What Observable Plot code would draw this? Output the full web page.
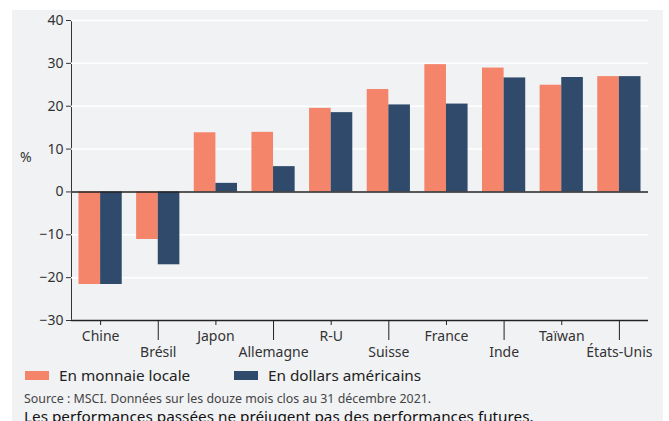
<!DOCTYPE html>
<html><head><meta charset="utf-8">
<script src="https://cdn.jsdelivr.net/npm/d3@7"></script>
<script src="https://cdn.jsdelivr.net/npm/@observablehq/plot@0.6"></script>
<style>
body{margin:0;background:#fff;font-family:"Noto Sans",sans-serif;overflow:hidden;}
#wrap{position:absolute;left:12px;top:10px;width:651px;height:420px;background:#f1f2f4;}
#chart{position:absolute;left:0;top:0;}
#pct{position:absolute;left:8px;top:137px;font-size:14px;color:#333;}
.leg{position:absolute;top:355px;font-size:15.3px;color:#222;display:flex;align-items:center;}
.sw{display:inline-block;width:24px;height:9px;margin-right:10px;}
#src{position:absolute;left:12px;top:382px;font-size:12.4px;line-height:14px;color:#444;}
#disc{position:absolute;left:12px;top:398px;font-size:15.3px;line-height:17px;color:#111;}
</style></head>
<body>
<div id="wrap">
<div id="chart"></div>
<div id="pct">%</div>
<div class="leg" style="left:13px"><span class="sw" style="background:#f4846a"></span>En monnaie locale</div>
<div class="leg" style="left:222px"><span class="sw" style="background:#2f4a6b"></span>En dollars américains</div>
<div id="src">Source : MSCI. Données sur les douze mois clos au 31 décembre 2021.</div>
<div id="disc">Les performances passées ne préjugent pas des performances futures.</div>
</div>
<script>
const categories = ["Chine","Brésil","Japon","Allemagne","R-U","Suisse","France","Inde","Taïwan","États-Unis"];
const series = ["En monnaie locale","En dollars américains"];
const localValues = [-21.6,-11.1,13.8,13.9,19.5,23.9,29.7,28.9,24.9,26.9];
const usdValues = [-21.6,-17.0,2.0,5.9,18.5,20.3,20.5,26.6,26.7,26.9];
const yTicks = [-30,-20,-10,0,10,20,30,40];
const colors = ["#f4846a","#2f4a6b"];

const localData = categories.map((c,i)=>({cat:c, v:localValues[i]}));
const usdData = categories.map((c,i)=>({cat:c, v:usdValues[i]}));
const evenCats = categories.filter((c,i)=>i%2===0);
const oddCats = categories.filter((c,i)=>i%2===1);

function make(half){
  return Plot.plot({
    width:651, height:362,
    marginTop:10, marginBottom:52, marginLeft:59, marginRight:15,
    style:{background:"transparent", fontFamily:"Noto Sans, sans-serif", fontSize:"14px", color:"#333"},
    x:{domain:categories, paddingInner:0.25, paddingOuter:0.13, round:false, label:null},
    y:{domain:[-30,40], ticks:yTicks, label:null, line:true, tickSize:5, tickPadding:3},
    marks:[
      Plot.gridY(yTicks, {stroke:"#fff", strokeOpacity:1, strokeWidth:1.5}),
      Plot.barY(localData, {x:"cat", y:"v", fill:colors[0], insetRight:half}),
      Plot.barY(usdData, {x:"cat", y:"v", fill:colors[1], insetLeft:half}),
      Plot.ruleY([0], {stroke:"#222", strokeWidth:1.5}),
      Plot.axisX({ticks:evenCats, tickSize:5, tickPadding:6, fontSize:14, label:null, stroke:"#222"}),
      Plot.axisX({ticks:oddCats, tickSize:20, tickPadding:7, fontSize:14, label:null, stroke:"#222"}),
      Plot.ruleY([-30], {stroke:"#222", strokeWidth:1.5})
    ]
  });
}
const probe = make(0);
const bw = probe.scale("x").bandwidth;
const chart = make(bw/2);
document.getElementById("chart").appendChild(chart);
</script>
</body></html>
